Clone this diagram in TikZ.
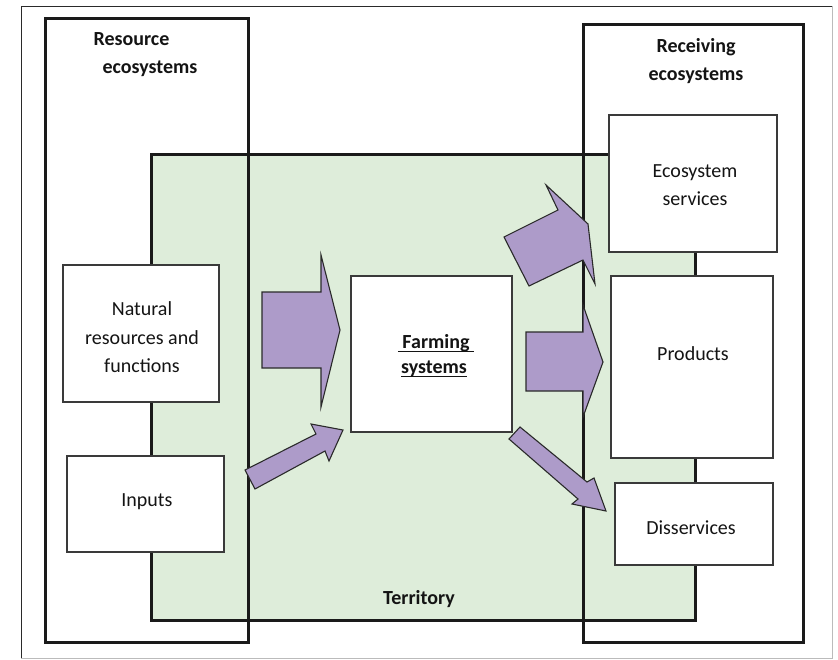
\documentclass[tikz,border=0pt]{standalone}
\usepackage{fontspec}
\setmainfont{Carlito}
\definecolor{terr}{HTML}{DEEDDA}
\definecolor{arr}{HTML}{AD9BC9}
\definecolor{thickc}{HTML}{1A1A1A}
\definecolor{thinc}{HTML}{3A3A3A}
\definecolor{framed}{HTML}{2A2A2A}
\definecolor{framel}{HTML}{BBBBBB}
\newcommand\myul[1]{\setbox0\hbox{#1}\rlap{\rule[-4pt]{\wd0}{1.5pt}}\box0}
\tikzset{
  txt/.style={font=\fontsize{20}{24}\selectfont, inner sep=0pt, anchor=base, text=black!92},
  bld/.style={txt, font=\fontsize{20}{24}\selectfont\bfseries},
  bigbox/.style={draw=thickc, line width=3pt, rectangle, inner sep=0pt, outer sep=0pt, anchor=north west},
  wbox/.style={draw=thinc, fill=white, line width=1.4pt, rectangle, inner sep=0pt, outer sep=0pt, anchor=north west},
  blockarrow/.style={fill=arr, draw=framed, line width=1.1pt, line join=miter},
}
\begin{document}
\begin{tikzpicture}[x=1pt,y=-1pt]
\useasboundingbox (0,0) rectangle (838,659);
% outer frame
\draw[framed, line width=1pt] (21,658) -- (21,6) -- (832,6);
\draw[framel, line width=1pt] (832,6) -- (832,658) -- (21,658);
% territory
\node[bigbox, fill=terr, minimum width=544pt, minimum height=466pt] (terr) at (151,154) {};
% resource and receiving ecosystems
\node[bigbox, minimum width=203pt, minimum height=624pt] (res) at (45,18) {};
\node[bigbox, minimum width=220pt, minimum height=618pt] (rec) at (583,24) {};
% white boxes
\node[wbox, minimum width=156pt, minimum height=137pt] (nat) at (63,265) {};
\node[wbox, minimum width=157pt, minimum height=96pt] (inp) at (67,456) {};
\node[wbox, minimum width=161pt, minimum height=156pt] (farm) at (351,276) {};
\node[wbox, minimum width=168pt, minimum height=137pt] (eco) at (609,115) {};
\node[wbox, minimum width=162pt, minimum height=182pt] (prod) at (611,276) {};
\node[wbox, minimum width=158pt, minimum height=82pt] (dis) at (615,483) {};
% texts
\node[bld] (t1) at (131.5,45) {Resource};
\node[bld] (t2) at (150,73) {ecosystems};
\node[bld] (t3) at (696,52) {Receiving};
\node[bld] (t4) at (696,80) {ecosystems};
\node[txt] (t5) at (695,177) {Ecosystem};
\node[txt] (t6) at (695,205) {services};
\node[txt] (t7) at (142,315) {Natural};
\node[txt] (t8) at (142,344) {resources and};
\node[txt] (t9) at (142,372) {functions};
\node[txt] (t10) at (147,506) {Inputs};
\node[txt] (t11) at (693,360) {Products};
\node[txt] (t12) at (691,534) {Disservices};
\node[bld] (t13) at (419,604) {Territory};
\node[bld] (t14) at (436,348) {\myul{\ Farming\ }};
\node[bld] (t15) at (434,373) {\myul{systems}};
% block arrows
\filldraw[blockarrow] (262,292) -- (321,292) -- (321,255) -- (340,330) -- (321,407) -- (321,368) -- (262,368) -- cycle;
\filldraw[blockarrow] (245,470) -- (316,434) -- (311,424) -- (343,430) -- (329,461) -- (325,451) -- (255,489) -- cycle;
\filldraw[blockarrow] (504,237) -- (558,210) -- (546,185) -- (588,224) -- (595,284) -- (583,260) -- (529,286) -- cycle;
\filldraw[blockarrow] (526,332) -- (583,332) -- (583,305) -- (603,362) -- (583,417) -- (583,391) -- (526,391) -- cycle;
\filldraw[blockarrow] (509,439) -- (520,427) -- (587,482) -- (594,478) -- (606,511) -- (572,504) -- (578,499) -- cycle;
\end{tikzpicture}
\end{document}
